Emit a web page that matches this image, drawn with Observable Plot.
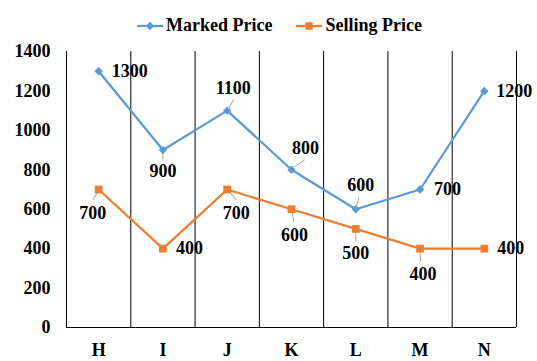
<!DOCTYPE html>
<html>
<head>
<meta charset="utf-8">
<script src="https://cdn.jsdelivr.net/npm/d3@7"></script>
<script src="https://cdn.jsdelivr.net/npm/@observablehq/plot@0.6"></script>
<style>
  html, body { margin: 0; padding: 0; background: #fff; }
  #viz { width: 537px; height: 361px; position: relative; }
  .lg { height: 42px; padding-top: 9px; display: flex; justify-content: center; align-items: center; gap: 24px; font-weight: bold; font-size: 18px; color: #000; padding-left: 22px; box-sizing: border-box; font-family: 'Liberation Serif', serif; }
  .lg .item { display: flex; align-items: center; gap: 3px; }
  .lg svg { display: block; }
</style>
</head>
<body>
<div id="viz"></div>
<script>
const categories = ["H", "I", "J", "K", "L", "M", "N"];
const seriesNames = ["Marked Price", "Selling Price"];
const markedPrice = [1300, 900, 1100, 800, 600, 700, 1200];
const sellingPrice = [700, 400, 700, 600, 500, 400, 400];
const yTicks = [0, 200, 400, 600, 800, 1000, 1200, 1400];

const colors = {"Marked Price": "#5B9BD5", "Selling Price": "#ED7D31"};
const FONT = "'Liberation Serif', serif";

// label placement per point: [anchor, dx, dy]
const markedLabelLayout = [["start", 13, 0], ["middle", 0, 21], ["middle", 6, -22], ["middle", 14, -22], ["middle", 5, -24], ["start", 14, 0], ["start", 12, 0]];
const sellingLabelLayout = [["middle", -6, 24], ["start", 13, 0], ["middle", 9, 24], ["middle", 3, 26], ["middle", 0, 24], ["middle", 3, 26], ["start", 13, 0]];
// leader lines: [dx, dy, length, rotate] or null
const markedLeaders = [null, [0, 3, 6, 180], [2, -3, 9, 28], [3, -3, 12, 55], [1, -4, 8, 15], null, null];
const sellingLeaders = [[-2, 4, 7, 210], null, [3, 3, 9, 140], [1, 4, 8, 172], [0, 4, 8, 180], [0, 4, 9, 176], null];

const rows = [];
seriesNames.forEach((s, si) => {
  const vals = si === 0 ? markedPrice : sellingPrice;
  const lay = si === 0 ? markedLabelLayout : sellingLabelLayout;
  const lead = si === 0 ? markedLeaders : sellingLeaders;
  vals.forEach((v, i) => rows.push({series: s, i, cat: categories[i], value: v, lay: lay[i], lead: lead[i]}));
});

const root = document.getElementById("viz");

// legend
const legend = document.createElement("div");
legend.className = "lg";
seriesNames.forEach(s => {
  const item = document.createElement("div");
  item.className = "item";
  const sw = d3.create("svg").attr("width", 26).attr("height", 12);
  sw.append("line").attr("x1", 0).attr("x2", 26).attr("y1", 6).attr("y2", 6).attr("stroke", colors[s]).attr("stroke-width", 2.25);
  sw.append("path").attr("transform", "translate(13,6)")
    .attr("d", d3.symbol(s === "Marked Price" ? d3.symbolDiamond2 : d3.symbolSquare, s === "Marked Price" ? 45 : 55)())
    .attr("fill", colors[s]);
  item.appendChild(sw.node());
  const t = document.createElement("span");
  t.textContent = s;
  item.appendChild(t);
  legend.appendChild(item);
});
root.appendChild(legend);

const boundaries = d3.range(categories.length + 1).map(k => k - 0.5);

const textMarks = [];
const leaderMarks = [];
rows.forEach(r => {
  textMarks.push(Plot.text([r], {x: "i", y: "value", text: d => String(d.value), textAnchor: r.lay[0], dx: r.lay[1], dy: r.lay[2], fill: "#000", fontSize: 18, fontWeight: "bold", fontFamily: FONT}));
  if (r.lead) {
    leaderMarks.push(Plot.vector([r], {x: "i", y: "value", length: r.lead[2], rotate: r.lead[3], anchor: "start", dx: r.lead[0], dy: r.lead[1], stroke: "#a6a6a6", strokeWidth: 1,
      shape: {draw(context, l) { context.moveTo(0, 0); context.lineTo(0, -l); }}}));
  }
});

const plot = Plot.plot({
  width: 537,
  height: 319,
  marginTop: 9,
  marginBottom: 34,
  marginLeft: 66,
  marginRight: 21,
  style: {fontFamily: FONT, fontSize: "18px", fontWeight: "bold", color: "#000", background: "#fff"},
  x: {domain: [-0.5, categories.length - 0.5], ticks: d3.range(categories.length), tickFormat: i => categories[i], tickSize: 0, tickPadding: 16, label: null},
  y: {domain: [0, 1400], ticks: yTicks, tickFormat: d => String(d), tickSize: 0, tickPadding: 16, label: null},
  marks: [
    Plot.ruleX(boundaries, {stroke: "#000", strokeWidth: 1}),
    Plot.ruleY([0], {stroke: "#000", strokeWidth: 1}),
    ...leaderMarks,
    Plot.line(rows, {x: "i", y: "value", z: "series", stroke: d => colors[d.series], strokeWidth: 2.25}),
    Plot.dot(rows.filter(d => d.series === "Marked Price"), {x: "i", y: "value", symbol: "diamond2", r: 3.8, fill: colors["Marked Price"], stroke: "none"}),
    Plot.dot(rows.filter(d => d.series === "Selling Price"), {x: "i", y: "value", symbol: "square", r: 4.4, fill: colors["Selling Price"], stroke: "none"}),
    ...textMarks
  ]
});
root.appendChild(plot);
</script>
</body>
</html>
